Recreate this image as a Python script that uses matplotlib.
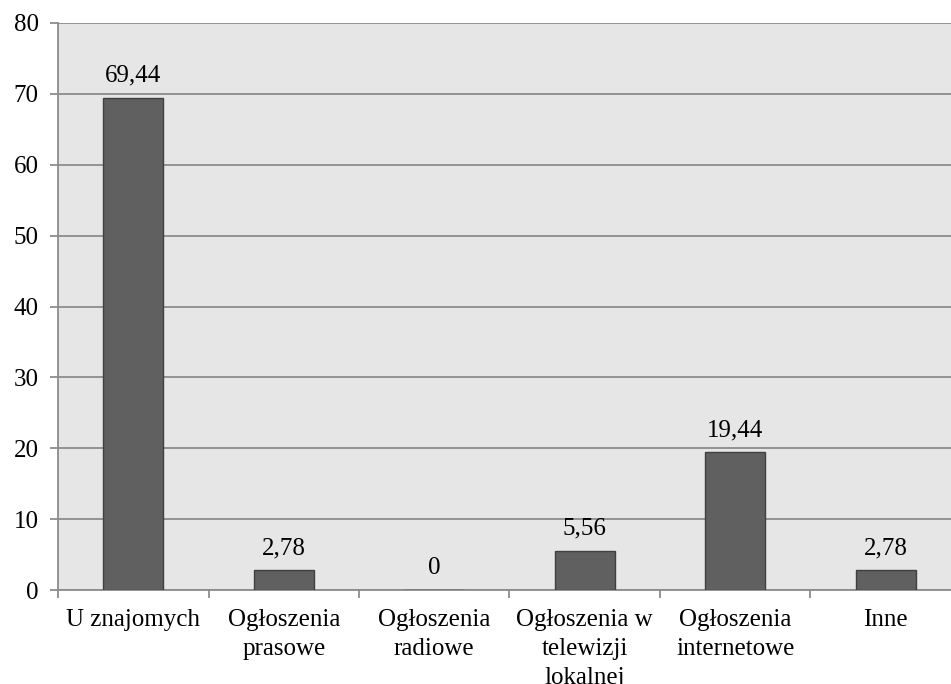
import matplotlib
matplotlib.use("Agg")
from matplotlib import pyplot as plt

# dane z wykresu
kategorie = ["U znajomych", "Ogłoszenia\nprasowe", "Ogłoszenia\nradiowe",
             "Ogłoszenia w\ntelewizji\nlokalnej", "Ogłoszenia\ninternetowe", "Inne"]
wartosci = [69.44, 2.78, 0, 5.56, 19.44, 2.78]
etykiety = ["69,44", "2,78", "0", "5,56", "19,44", "2,78"]
y_ticks = [0, 10, 20, 30, 40, 50, 60, 70, 80]

plt.rcParams['font.family'] = ['Liberation Serif', 'DejaVu Serif']
FS = 18

fig = plt.figure(figsize=(9.51, 6.84), dpi=100)
ax = fig.add_axes([0.061, 0.1374, 0.9495, 0.829])
ax.set_facecolor('#e6e6e6')

x = list(range(len(kategorie)))
ax.bar(x, wartosci, width=0.4, color='#606060', edgecolor='#404040', linewidth=1, zorder=3)

for xi, v, t in zip(x, wartosci, etykiety):
    ax.annotate(t, (xi, v), xytext=(0, 8), textcoords='offset points',
                ha='center', va='bottom', fontsize=FS)

ax.set_xlim(-0.5, len(kategorie) - 0.5)
ax.set_ylim(0, 80)
ax.set_yticks(y_ticks)
ax.yaxis.grid(True, color='#8c8c8c', linewidth=1.3, zorder=0)
ax.set_axisbelow(True)

ax.set_xticks(x)
ax.set_xticklabels(kategorie, fontsize=FS, linespacing=1.4)
ax.tick_params(axis='x', length=0, pad=14)
ax.set_xticks([i - 0.5 for i in range(len(kategorie) + 1)], minor=True)
ax.tick_params(axis='x', which='minor', length=6, color='#8c8c8c', width=1.3)
ax.tick_params(axis='y', length=6, color='#8c8c8c', width=1.3, labelsize=FS, pad=8)

for s in ['top', 'right']:
    ax.spines[s].set_visible(False)
ax.spines['left'].set_color('#8c8c8c')
ax.spines['left'].set_linewidth(1.3)
ax.spines['bottom'].set_color('#8c8c8c')
ax.spines['bottom'].set_linewidth(1.3)

fig.savefig("out.png", dpi=100)
